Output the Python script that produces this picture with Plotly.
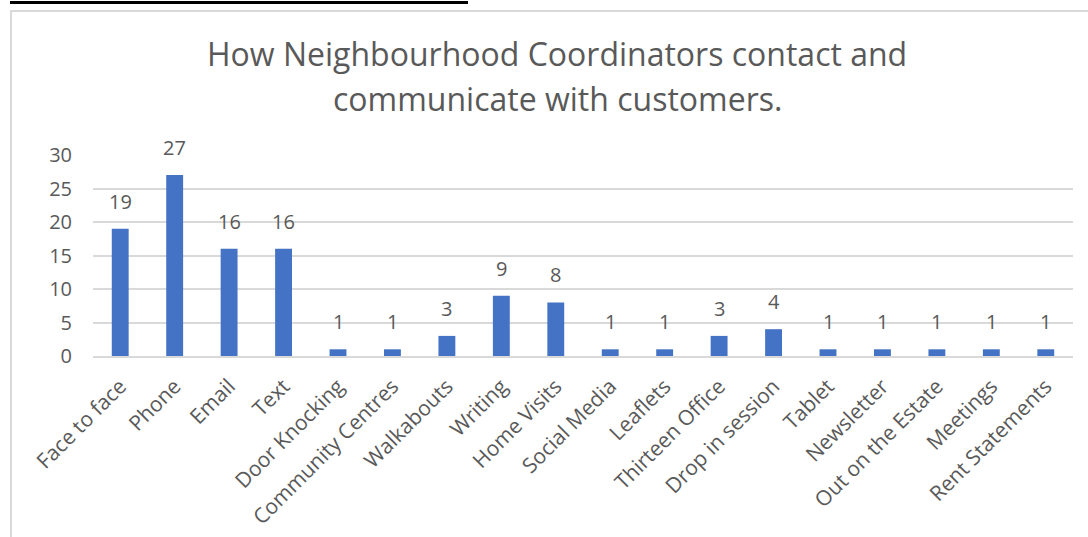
import plotly.graph_objects as go

categories = [
    "Face to face", "Phone", "Email", "Text", "Door Knocking",
    "Community Centres", "Walkabouts", "Writing", "Home Visits",
    "Social Media", "Leaflets", "Thirteen Office", "Drop in session",
    "Tablet", "Newsletter", "Out on the Estate", "Meetings", "Rent Statements",
]
counts = [19, 27, 16, 16, 1, 1, 3, 9, 8, 1, 1, 3, 4, 1, 1, 1, 1, 1]
y_ticks = [0, 5, 10, 15, 20, 25, 30]
title_lines = ["How Neighbourhood Coordinators contact and",
               "communicate with customers."]

W, H = 1088, 537
L, R, T, B = 93, 15, 155, 181
PW, PH = W - L - R, H - T - B
FONT = "Open Sans"
GREY = "#595959"
LINE = "#d9d9d9"


def px_x(x):
    return (x - L) / PW


def px_y(y):
    return (H - B - y) / PH


fig = go.Figure(go.Bar(
    x=categories, y=counts,
    marker=dict(color="#4472C4", line=dict(width=0)),
    hoverinfo="x+y",
))

annotations = []
for cat, v in zip(categories, counts):
    annotations.append(dict(
        x=cat, y=v, xref="x", yref="y", text=str(v), showarrow=False,
        yanchor="bottom", yshift=12, font=dict(family=FONT, size=20, color=GREY),
    ))

for i, line in enumerate(title_lines):
    annotations.append(dict(
        x=px_x(557), y=px_y(53 + i * 45), xref="paper", yref="paper",
        text=line, showarrow=False, xanchor="center", yanchor="middle",
        font=dict(family=FONT, size=32, color=GREY),
    ))

shapes = [
    # chart frame: top and left edges (the rest runs off the page)
    dict(type="line", xref="paper", yref="paper",
         x0=px_x(10), x1=px_x(1100), y0=px_y(11), y1=px_y(11),
         line=dict(color=LINE, width=2), layer="below"),
    dict(type="line", xref="paper", yref="paper",
         x0=px_x(11), x1=px_x(11), y0=px_y(10), y1=px_y(560),
         line=dict(color=LINE, width=2), layer="below"),
    # black rule above the frame
    dict(type="line", xref="paper", yref="paper",
         x0=px_x(10), x1=px_x(468), y0=px_y(2.5), y1=px_y(2.5),
         line=dict(color="black", width=3)),
]

fig.update_layout(
    width=W, height=H,
    margin=dict(l=L, r=R, t=T, b=B),
    paper_bgcolor="white", plot_bgcolor="white",
    showlegend=False,
    bargap=0.69,
    annotations=annotations,
    shapes=shapes,
    font=dict(family=FONT, color=GREY),
)
fig.update_xaxes(
    tickangle=-45, tickfont=dict(family=FONT, size=21, color=GREY),
    showline=True, linecolor=LINE, linewidth=1.5, showgrid=False,
    ticks="outside", ticklen=8, tickcolor="rgba(0,0,0,0)",
    automargin=False,
)
fig.update_yaxes(
    range=[0, 30], tickvals=y_ticks, tickfont=dict(family=FONT, size=20, color=GREY),
    showgrid=True, gridcolor=LINE, gridwidth=1.5, zeroline=False,
    ticks="outside", ticklen=16, tickcolor="rgba(0,0,0,0)",
    automargin=False,
)

fig.write_html("out.html")
